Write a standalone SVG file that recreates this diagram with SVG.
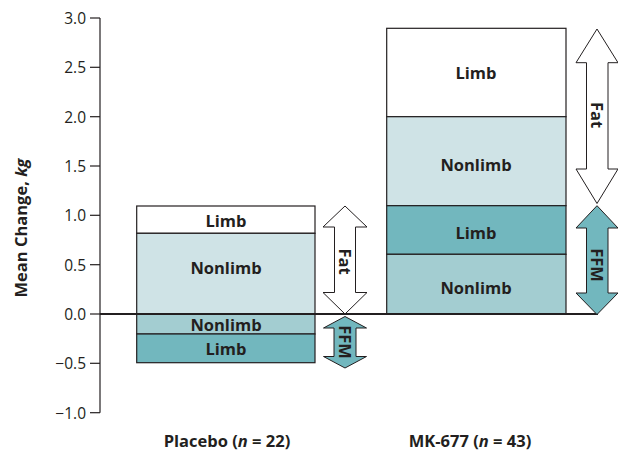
<svg xmlns="http://www.w3.org/2000/svg" width="618" height="453" viewBox="0 0 618 453">
  <style>
    .tick { font-family: "Open Sans", "Liberation Sans", sans-serif; font-size: 15.5px; fill: #231f20; text-anchor: end; dominant-baseline: central; }
    .lbl { font-family: "Open Sans", "Liberation Sans", sans-serif; font-size: 16.5px; font-weight: 700; fill: #231f20; text-anchor: middle; dominant-baseline: central; }
    .cat { font-family: "Open Sans", "Liberation Sans", sans-serif; font-size: 16.5px; font-weight: 700; fill: #231f20; text-anchor: middle; }
    .seg { stroke: #231f20; stroke-width: 1.2; }
    .arrow { stroke: #231f20; stroke-width: 1; }
    .white { fill: #ffffff; }
    .light { fill: #cfe3e6; }
    .mid { fill: #a3cdd1; }
    .dark { fill: #72b7be; }
  </style>
  <rect width="618" height="453" fill="#ffffff"/>

  <!-- axis -->
  <g id="axis" stroke="#231f20" stroke-width="1.2" fill="none">
    <line x1="100" y1="18" x2="100" y2="412.7"/>
    <line x1="90" y1="18" x2="100" y2="18"/>
    <line x1="90" y1="67.3" x2="100" y2="67.3"/>
    <line x1="90" y1="116.7" x2="100" y2="116.7"/>
    <line x1="90" y1="166" x2="100" y2="166"/>
    <line x1="90" y1="215.3" x2="100" y2="215.3"/>
    <line x1="90" y1="264.7" x2="100" y2="264.7"/>
    <line x1="90" y1="314" x2="100" y2="314"/>
    <line x1="90" y1="363.3" x2="100" y2="363.3"/>
    <line x1="90" y1="412.7" x2="100" y2="412.7"/>
  </g>
  <g id="tick-labels">
    <text class="tick" x="86" y="18">3.0</text>
    <text class="tick" x="86" y="67.3">2.5</text>
    <text class="tick" x="86" y="116.7">2.0</text>
    <text class="tick" x="86" y="166">1.5</text>
    <text class="tick" x="86" y="215.3">1.0</text>
    <text class="tick" x="86" y="264.7">0.5</text>
    <text class="tick" x="86" y="314">0.0</text>
    <text class="tick" x="86" y="363.3">−0.5</text>
    <text class="tick" x="86" y="412.7">−1.0</text>
  </g>
  <text class="lbl" transform="translate(20,228) rotate(-90)">Mean Change, <tspan font-style="italic">kg</tspan></text>

  <!-- placebo stack -->
  <g id="placebo-bar">
    <rect class="seg white" x="136.7" y="206" width="178.3" height="27.3"/>
    <rect class="seg light" x="136.7" y="233.3" width="178.3" height="80.7"/>
    <rect class="seg mid" x="136.7" y="314" width="178.3" height="20"/>
    <rect class="seg dark" x="136.7" y="334" width="178.3" height="28.7"/>
    <text class="lbl" x="226" y="220">Limb</text>
    <text class="lbl" x="226" y="267">Nonlimb</text>
    <text class="lbl" x="226" y="324">Nonlimb</text>
    <text class="lbl" x="226" y="348">Limb</text>
  </g>

  <!-- MK-677 stack -->
  <g id="mk677-bar">
    <rect class="seg white" x="386.7" y="28.3" width="179.3" height="88.4"/>
    <rect class="seg light" x="386.7" y="116.7" width="179.3" height="89"/>
    <rect class="seg dark" x="386.7" y="205.7" width="179.3" height="48.6"/>
    <rect class="seg mid" x="386.7" y="254.3" width="179.3" height="59.7"/>
    <text class="lbl" x="476" y="72">Limb</text>
    <text class="lbl" x="476" y="164">Nonlimb</text>
    <text class="lbl" x="476" y="232.5">Limb</text>
    <text class="lbl" x="476" y="287">Nonlimb</text>
  </g>

  <!-- zero line -->
  <line x1="100" y1="314" x2="598" y2="314" stroke="#231f20" stroke-width="2"/>

  <!-- double-headed arrows -->
  <g id="placebo-fat">
    <path class="arrow white" d="M345,206 L367,227 L355.5,227 L355.5,292.5 L367,292.5 L345,314 L323,292.5 L334.5,292.5 L334.5,227 L323,227 Z"/>
    <text class="lbl" transform="translate(345,261.5) rotate(90)">Fat</text>
  </g>
  <g id="placebo-ffm">
    <path class="arrow dark" d="M345,316.5 L366.5,328 L356,328 L356,356.5 L366.5,356.5 L345,368 L323.5,356.5 L334,356.5 L334,328 L323.5,328 Z"/>
    <text class="lbl" transform="translate(345,342) rotate(90)">FFM</text>
  </g>
  <g id="mk677-fat">
    <path class="arrow white" d="M597,29 L618,62.7 L608,62.7 L608,169 L618,169 L597,203.5 L576,169 L586.5,169 L586.5,62.7 L576,62.7 Z"/>
    <text class="lbl" transform="translate(597,115) rotate(90)">Fat</text>
  </g>
  <g id="mk677-ffm">
    <path class="arrow dark" d="M597,205.7 L618,228 L608,228 L608,293 L618,293 L597,314.5 L576,293 L586.5,293 L586.5,228 L576,228 Z"/>
    <text class="lbl" transform="translate(597,265) rotate(90)">FFM</text>
  </g>

  <!-- group labels -->
  <text class="cat" x="227" y="447">Placebo (<tspan font-style="italic">n</tspan> = 22)</text>
  <text class="cat" x="470" y="447">MK-677 (<tspan font-style="italic">n</tspan> = 43)</text>
</svg>
